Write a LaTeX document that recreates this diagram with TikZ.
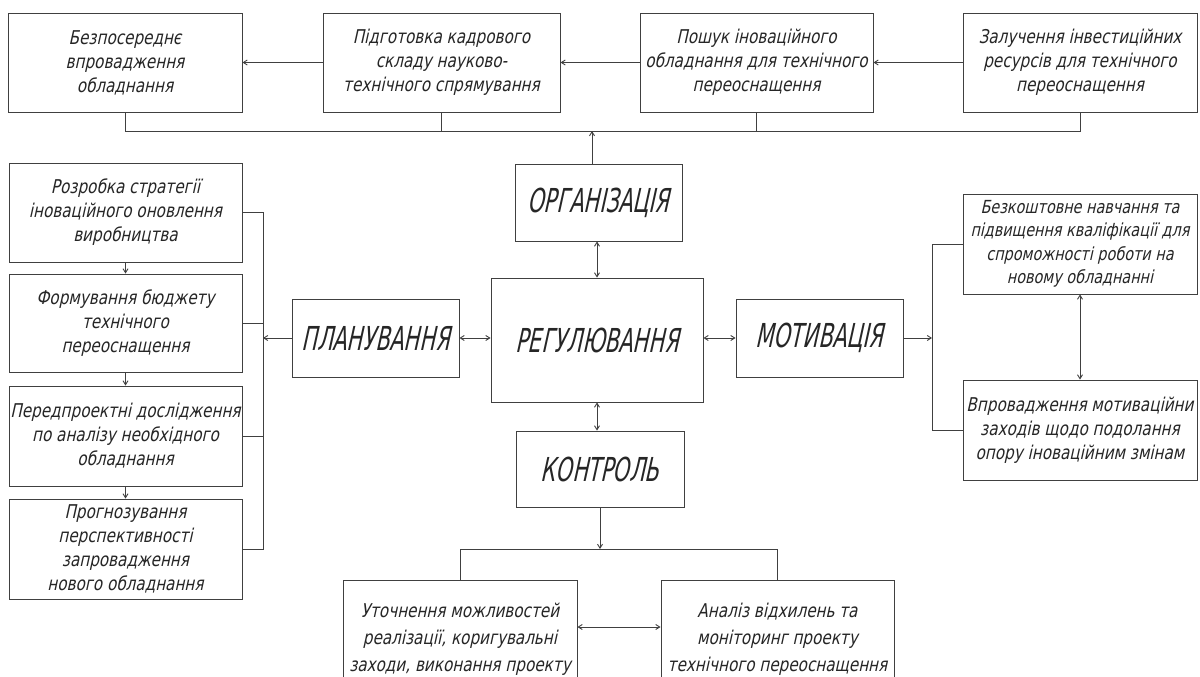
\documentclass[tikz,border=0pt]{standalone}
\usepackage{fontspec}
\newfontfamily\gost[FakeStretch=0.8,FakeSlant=0.22]{DejaVu Sans}
\newfontfamily\gostcap[FakeStretch=0.63,FakeSlant=0.22]{DejaVu Sans}
\usetikzlibrary{arrows.meta}
\begin{document}
\begin{tikzpicture}[x=1pt,y=-1pt,
  box/.style={draw=black!75, line width=0.9pt, inner sep=0pt, align=center, text=black!85,
    font=\gost\fontsize{19}{24}\selectfont},
  capbox/.style={box, font=\gostcap\fontsize{33}{33}\selectfont},
  ln/.style={draw=black!75, line width=0.9pt},
  arr/.style={ln, -{Straight Barb[length=4pt,width=5pt]}},
  darr/.style={ln, {Straight Barb[length=4pt,width=5pt]}-{Straight Barb[length=4pt,width=5pt]}},
]
\useasboundingbox (0,0) rectangle (1200,677);
\clip (0,0) rectangle (1200,677);
\fill[white] (0,0) rectangle (1200,677);

% top row
\node[box, minimum width=234pt, minimum height=99pt] (t1) at (125,62.5) {Безпосереднє\\впровадження\\обладнання};
\node[box, minimum width=237pt, minimum height=99pt] (t2) at (441.5,62.5) {Підготовка кадрового\\складу науково-\\технічного спрямування};
\node[box, minimum width=233pt, minimum height=99pt] (t3) at (756.5,62.5) {Пошук іноваційного\\обладнання для технічного\\переоснащення};
\node[box, minimum width=234pt, minimum height=99pt] (t4) at (1080,62.5) {Залучення інвестиційних\\ресурсів для технічного\\переоснащення};

% centre
\node[capbox, minimum width=167pt, minimum height=77pt] (org) at (598.5,202.5) {ОРГАНІЗАЦІЯ};
\node[capbox, minimum width=212pt, minimum height=124pt] (reg) at (597,340) {РЕГУЛЮВАННЯ};
\node[capbox, minimum width=167pt, minimum height=78pt] (plan) at (375.5,338) {ПЛАНУВАННЯ};
\node[capbox, minimum width=167pt, minimum height=78pt] (mot) at (819.5,338) {МОТИВАЦІЯ};
\node[capbox, minimum width=168pt, minimum height=76pt] (kon) at (600,469) {КОНТРОЛЬ};

% left column
\node[box, minimum width=233pt, minimum height=99pt] (l1) at (125.5,212.5) {Розробка стратегії\\іноваційного оновлення\\виробництва};
\node[box, minimum width=233pt, minimum height=98pt] (l2) at (125.5,323) {Формування бюджету\\технічного\\переоснащення};
\node[box, minimum width=233pt, minimum height=100pt] (l3) at (125.5,436) {Передпроектні дослідження\\по аналізу необхідного\\обладнання};
\node[box, minimum width=233pt, minimum height=100pt] (l4) at (125.5,549) {Прогнозування\\перспективності\\запровадження\\нового обладнання};

% right column
\node[box, minimum width=234pt, minimum height=100pt, font=\gost\fontsize{18}{23.5}\selectfont] (r1) at (1080,244) {Безкоштовне навчання та\\підвищення кваліфікації для\\спроможності роботи на\\новому обладнанні};
\node[box, minimum width=234pt, minimum height=100pt] (r2) at (1080,430) {Впровадження мотиваційни\\заходів щодо подолання\\опору іноваційним змінам};

% bottom row
\node[box, minimum width=234pt, minimum height=118pt, font=\gost\fontsize{19}{27}\selectfont] (b1) at (460,639) {Уточнення можливостей\\реалізації, коригувальні\\заходи, виконання проекту};
\node[box, minimum width=233pt, minimum height=118pt, font=\gost\fontsize{19}{27}\selectfont] (b2) at (777.5,639) {Аналіз відхилень та\\моніторинг проекту\\технічного переоснащення};

% top connectors
\draw[arr] (t2.west) -- (t1.east);
\draw[arr] (t3.west) -- (t2.east);
\draw[arr] (t4.west) -- (t3.east);
\draw[ln] (t1.south) -- (t1.south |- 0,131) -- (t4.south |- 0,131) -- (t4.south);
\draw[ln] (t2.south) -- (t2.south |- 0,131);
\draw[ln] (t3.south) -- (t3.south |- 0,131);
\draw[arr] (org.north -| 592,0) -- (592,131);

% centre connectors
\draw[darr] (org.south -| reg.north) -- (reg.north);
\draw[darr] (plan.east) -- (plan.east -| reg.west);
\draw[darr] (reg.east |- mot.west) -- (mot.west);
\draw[darr] (reg.south) -- (reg.south |- kon.north);

% left connectors
\coordinate (lb) at (263,338);
\draw[arr] (l1.south) -- (l2.north);
\draw[arr] (l2.south) -- (l3.north);
\draw[arr] (l3.south) -- (l4.north);
\draw[ln] (l1.east) -- (l1.east -| lb) -- (l4.east -| lb) -- (l4.east);
\draw[ln] (l2.east) -- (l2.east -| lb);
\draw[ln] (l3.east) -- (l3.east -| lb);
\draw[arr] (plan.west) -- (lb);

% right connectors
\coordinate (rb) at (932,338);
\draw[ln] (r1.west) -- (r1.west -| rb) -- (r2.west -| rb) -- (r2.west);
\draw[arr] (mot.east) -- (rb);
\draw[darr] (r1.south) -- (r2.north);

% bottom connectors
\coordinate (kb) at (600,549);
\draw[arr] (kon.south) -- (kb);
\draw[ln] (b1.north) -- (b1.north |- kb) -- (b2.north |- kb) -- (b2.north);
\draw[darr] (b1.east |- 0,627) -- (b2.west |- 0,627);
\end{tikzpicture}
\end{document}
